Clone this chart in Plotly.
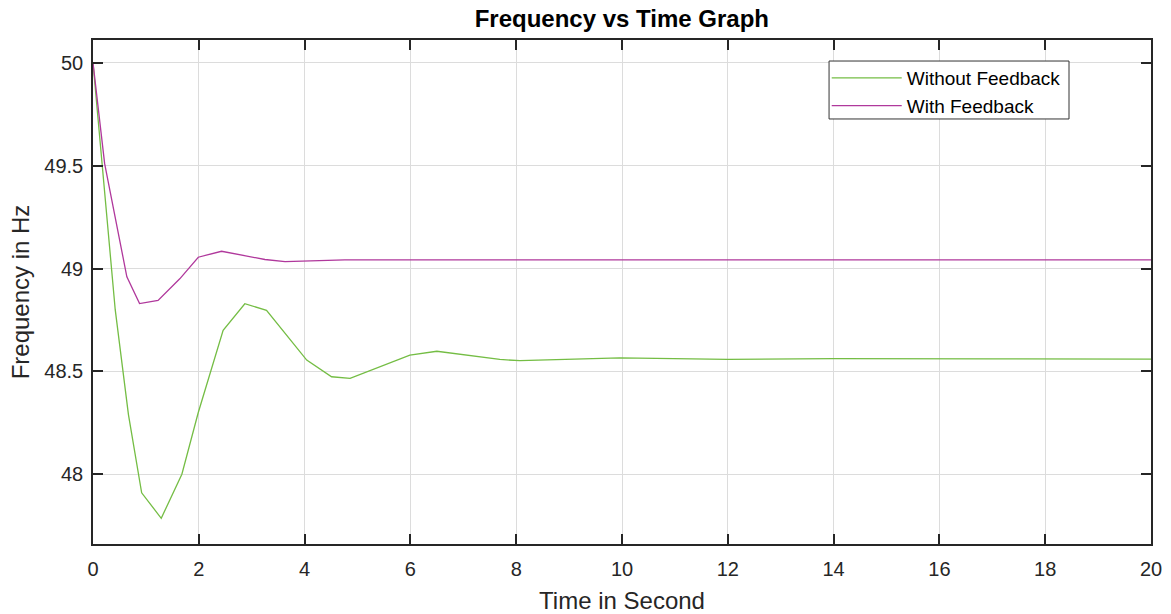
import plotly.graph_objects as go

# Data
time_without = [0, 0.42, 0.67, 0.92, 1.29, 1.68, 1.99, 2.46, 2.87, 3.28, 4.04, 4.51, 4.86,
                5.99, 6.50, 7.69, 8.07, 9.96, 12.0, 14.0, 17.0, 20.0]
freq_without = [50.0, 48.80, 48.29, 47.91, 47.786, 48.0, 48.30, 48.70, 48.829, 48.797, 48.555,
                48.474, 48.466, 48.579, 48.598, 48.558, 48.552, 48.566, 48.558, 48.562, 48.561, 48.560]

time_with = [0, 0.22, 0.64, 0.88, 1.23, 1.64, 1.99, 2.43, 3.25, 3.63, 4.76, 20.0]
freq_with = [50.0, 49.51, 48.96, 48.83, 48.845, 48.95, 49.055, 49.084, 49.044, 49.034, 49.042, 49.042]

x_ticks = [0, 2, 4, 6, 8, 10, 12, 14, 16, 18, 20]
y_ticks = [48, 48.5, 49, 49.5, 50]
y_tick_labels = ["48", "48.5", "49", "49.5", "50"]

FONT = "Liberation Sans, Arial, sans-serif"

fig = go.Figure()
fig.add_trace(go.Scatter(x=time_without, y=freq_without, mode="lines",
                         name="Without Feedback",
                         line=dict(color="#74bd44", width=1.3)))
fig.add_trace(go.Scatter(x=time_with, y=freq_with, mode="lines",
                         name="With Feedback",
                         line=dict(color="#b0389c", width=1.3)))

axis_common = dict(showline=True, linecolor="#262626", linewidth=1.5, mirror="ticks",
                   ticks="inside", ticklen=10, tickwidth=1.5, tickcolor="#262626",
                   showgrid=True, gridcolor="#dcdcdc", gridwidth=1, zeroline=False,
                   automargin=False,
                   tickfont=dict(family=FONT, size=20, color="#262626"))

fig.update_layout(
    width=1171, height=614,
    paper_bgcolor="white", plot_bgcolor="white",
    margin=dict(l=93, r=20, t=40, b=70),
    title=dict(text="<b>Frequency vs Time Graph</b>", x=0.531, xanchor="center",
               y=1 - 18.5 / 614, yanchor="middle", yref="container",
               font=dict(family=FONT, size=24, color="#000000")),
    xaxis=dict(range=[0, 20], tickvals=x_ticks, ticklabelstandoff=6,
               title=dict(text="Time in Second", font=dict(family=FONT, size=24, color="#262626"),
                          standoff=14),
               **axis_common),
    yaxis=dict(range=[47.661, 50.111], tickvals=y_ticks, ticktext=y_tick_labels,
               ticklabelstandoff=4,
               title=dict(text="Frequency in Hz", font=dict(family=FONT, size=24, color="#262626"),
                          standoff=8),
               **axis_common),
    legend=dict(x=0.6935, y=0.9623, xanchor="left", yanchor="top",
                bgcolor="rgba(0,0,0,0)", borderwidth=0,
                font=dict(family=FONT, size=19, color="#000000"),
                itemwidth=70, tracegroupgap=0),
    shapes=[dict(type="rect", xref="paper", yref="paper",
                 x0=0.6957, x1=0.9225, y0=0.8433, y1=0.9583,
                 fillcolor="white", line=dict(color="#333333", width=1), layer="above")],
    showlegend=True,
)

fig.write_html("out.html", config={"displayModeBar": False},
               post_script="document.body.style.margin='0';")
